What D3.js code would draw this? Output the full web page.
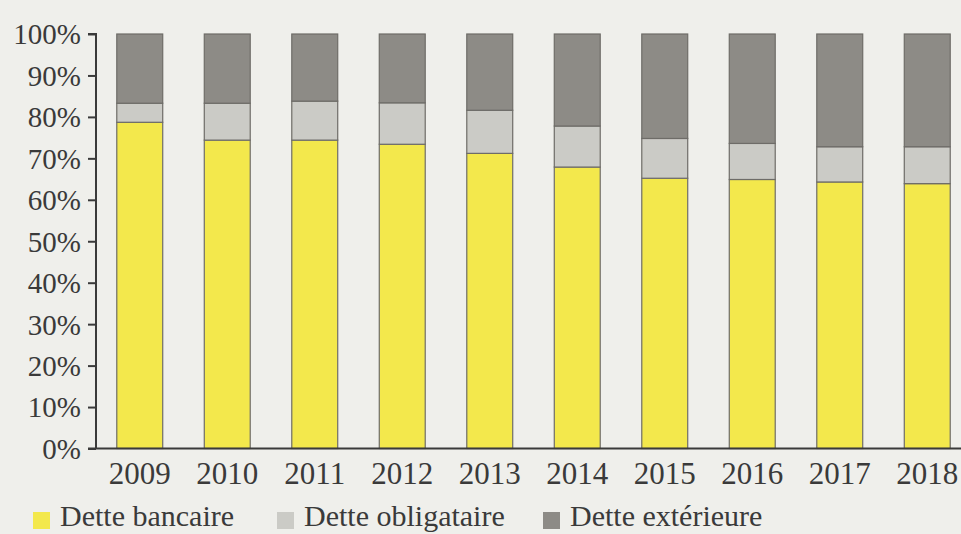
<!DOCTYPE html>
<html><head><meta charset="utf-8">
<script src="https://cdn.jsdelivr.net/npm/d3@7"></script>
<style>
html,body{margin:0;padding:0;background:#efefeb;}
svg{display:block;}
text{font-family:"Liberation Serif","Times New Roman",serif;fill:#3a3a3a;}
</style></head>
<body>
<svg id="chart" width="961" height="534"></svg>
<script>
const years = ["2009","2010","2011","2012","2013","2014","2015","2016","2017","2018"];
const detteBancaire   = [78.7, 74.4, 74.4, 73.4, 71.2, 67.9, 65.2, 64.9, 64.3, 63.9];
const detteObligataire = [4.6, 8.9, 9.4, 10.0, 10.4, 9.9, 9.6, 8.7, 8.5, 8.9];
const detteExterieure = [16.7, 16.7, 16.2, 16.6, 18.4, 22.2, 25.2, 26.4, 27.2, 27.2];
const seriesNames = ["Dette bancaire", "Dette obligataire", "Dette extérieure"];
const seriesColors = ["#f3e84c", "#cbcbc6", "#8d8b86"];
const yTicks = [0,10,20,30,40,50,60,70,80,90,100];

const svg = d3.select("#chart");
const axisX = 96, y0 = 448.5, y1 = 34;

const x = d3.scaleBand().domain(years).range([96, 971]).paddingInner(0.475).paddingOuter(0.2375);
const y = d3.scaleLinear().domain([0,100]).range([y0, y1]);

const rows = years.map((yr,i)=>({year:yr, b:detteBancaire[i], o:detteObligataire[i], e:detteExterieure[i]}));
const stack = d3.stack().keys(["b","o","e"]);
const stacked = stack(rows);

svg.append("g").selectAll("g").data(stacked).join("g")
  .attr("fill",(d,i)=>seriesColors[i])
  .selectAll("rect").data(d=>d).join("rect")
  .attr("x",d=>x(d.data.year))
  .attr("width",x.bandwidth())
  .attr("y",d=>y(d[1]))
  .attr("height",d=>y(d[0])-y(d[1]))
  .attr("stroke","#6e6c68").attr("stroke-width",1.2);

// Y axis
const yAxis = d3.axisLeft(y).tickValues(yTicks).tickFormat(d=>d+"%").tickSize(8).tickPadding(7);
const gy = svg.append("g").attr("transform",`translate(${axisX},0)`).call(yAxis);
gy.select(".domain").attr("stroke","#3a3a3a").attr("stroke-width",2).attr("d",`M-8,${y1}H0V${y0}`);
gy.selectAll(".tick line").attr("stroke","#3a3a3a").attr("stroke-width",2);
gy.selectAll(".tick text").attr("font-size",29).attr("fill","#3a3a3a").style("font-family","'Liberation Serif',serif").attr("dy","0.34em");

// X axis
const xAxis = d3.axisBottom(x).tickSize(0).tickPadding(13);
const gx = svg.append("g").attr("transform",`translate(0,${y0})`).call(xAxis);
gx.select(".domain").attr("stroke","#3a3a3a").attr("stroke-width",2).attr("d",`M88,0H961`);
gx.selectAll(".tick text").attr("font-size",31).attr("fill","#3a3a3a").style("font-family","'Liberation Serif',serif").attr("dy","0.71em");

// Legend
const legendX = [33, 277, 543];
const lg = svg.append("g");
seriesNames.forEach((n,i)=>{
  lg.append("rect").attr("x",legendX[i]).attr("y",512).attr("width",17).attr("height",17).attr("fill",seriesColors[i]);
  lg.append("text").attr("x",legendX[i]+27).attr("y",526).attr("font-size",30).text(n);
});
</script>
</body></html>
